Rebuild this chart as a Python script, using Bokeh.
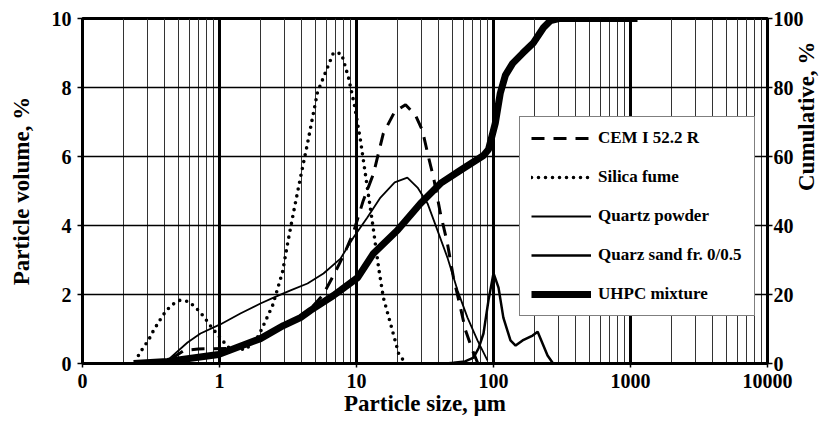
import math
from bokeh.plotting import figure
from bokeh.models import Range1d, LinearAxis, FixedTicker, Legend, LegendItem
from bokeh.embed import file_html
from bokeh.resources import INLINE

# ---- axes / ticks ----
x_ticks = [0.1, 1, 10, 100, 1000, 10000]
x_tick_labels = ["0", "1", "10", "100", "1000", "10000"]
x_minor_ticks = [0.2, 0.3, 0.4, 0.5, 0.6, 0.7, 0.8, 0.9,
                 2, 3, 4, 5, 6, 7, 8, 9,
                 20, 30, 40, 50, 60, 70, 80, 90,
                 200, 300, 400, 500, 600, 700, 800, 900,
                 2000, 3000, 4000, 5000, 6000, 7000, 8000, 9000]
y_ticks = [0, 2, 4, 6, 8, 10]
y2_ticks = [0, 20, 40, 60, 80, 100]

# ---- series ----
cem_x = [0.45, 0.55, 0.7, 0.9, 1.2, 1.6, 2.0, 3.0, 4.0, 4.62, 5.65, 6.79, 8.04, 9.5, 11.2, 13.3,
         15.7, 19.0, 22.8, 27.0, 30.3, 33.6, 36.5, 41.0, 46.1, 51.0, 57.4, 62.5, 70.3, 76.4]
cem_y = [0.15, 0.38, 0.42, 0.43, 0.44, 0.56, 0.75, 1.1, 1.4, 1.59, 1.97, 2.55, 3.13, 3.8, 4.72, 5.5,
         6.67, 7.3, 7.5, 7.19, 6.75, 5.97, 5.39, 4.35, 3.48, 2.49, 1.62, 0.96, 0.38, 0.03]

sf_x = [0.256, 0.279, 0.303, 0.324, 0.347, 0.377, 0.410, 0.454, 0.511, 0.594, 0.668, 0.739, 0.804,
        0.875, 0.967, 1.05, 1.16, 1.55, 1.89, 2.03, 2.44, 2.88, 3.19, 3.47, 3.90, 4.39, 5.19, 6.79,
        7.78, 8.74, 9.67, 10.7, 11.6, 13.1, 14.5, 15.7, 17.7, 20.3, 22.0]
sf_y = [0.23, 0.47, 0.67, 0.90, 1.10, 1.33, 1.54, 1.71, 1.83, 1.80, 1.63, 1.44, 1.25,
        1.05, 0.84, 0.67, 0.47, 0.40, 0.75, 0.99, 1.68, 2.64, 3.62, 4.38, 5.39, 6.38, 7.86, 9.01,
        8.98, 8.29, 7.48, 6.46, 5.50, 4.06, 2.78, 1.91, 1.16, 0.29, 0.09]

qp_x = [0.38, 0.439, 0.584, 0.726, 1.02, 1.42, 1.99, 2.48, 3.30, 4.39, 5.74, 7.64, 9.5, 12.0,
        14.96, 19.0, 23.5, 27.9, 33.0, 39.0, 46.1, 54.6, 64.6, 76.4, 90.3]
qp_y = [0.0, 0.17, 0.61, 0.87, 1.14, 1.45, 1.74, 1.91, 2.12, 2.32, 2.61, 3.04, 3.65, 4.23,
        4.81, 5.25, 5.39, 5.10, 4.64, 3.86, 3.07, 2.12, 1.33, 0.67, 0.09]

qs_x = [45, 51, 62, 71.5, 78, 84.5, 91.9, 100, 108.8, 118, 133, 145, 163, 193, 210, 228, 248, 270]
qs_y = [0.0, 0.02, 0.06, 0.17, 0.45, 0.87, 1.83, 2.62, 2.2, 1.33, 0.67, 0.52, 0.67, 0.81, 0.92, 0.58, 0.23, 0.02]

uh_x = [0.236, 0.417, 0.984, 1.99, 2.93, 3.90, 4.62, 6.79, 7.64, 10.2, 13.3, 19.9, 29.3, 41.0,
        57.4, 84.5, 91.9, 103, 112, 122, 138, 163, 196, 232, 261, 300, 1125]
uh_y = [0, 0.6, 2.6, 7.2, 11.0, 13.3, 15.4, 19.7, 21.2, 24.9, 31.9, 38.6, 46.4, 52.2,
        56.0, 60.3, 62.0, 69.6, 78.3, 83.5, 87.0, 89.9, 93.0, 97.4, 99.4, 100, 100]

legend_labels = ["CEM I 52.2 R", "Silica fume", "Quartz powder", "Quarz sand fr. 0/0.5", "UHPC mixture"]

FONT = "Liberation Serif"

p = figure(width=836, height=424, x_axis_type="log",
           x_range=Range1d(0.1, 10000), y_range=Range1d(0, 10),
           output_backend="svg", toolbar_location=None,
           min_border_left=82, min_border_right=69, min_border_top=18, min_border_bottom=61)
p.extra_y_ranges = {"cum": Range1d(0, 100)}
p.background_fill_color = "white"
p.border_fill_color = "white"
p.outline_line_color = "black"
p.outline_line_width = 3

# x axis
p.xaxis.ticker = FixedTicker(ticks=x_ticks, minor_ticks=x_minor_ticks)
p.xaxis.major_label_overrides = {t: l for t, l in zip(x_ticks, x_tick_labels)}
p.xaxis.axis_label = "Particle size, \u00b5m"
# y axis
p.yaxis.ticker = FixedTicker(ticks=y_ticks)
p.yaxis.axis_label = "Particle volume, %"

ax2 = LinearAxis(y_range_name="cum", ticker=FixedTicker(ticks=y2_ticks), axis_label="Cumulative, %")
if "axis_label_orientation" in ax2.properties():
    ax2.axis_label_orientation = math.pi / 2
p.add_layout(ax2, "right")

for ax in [p.xaxis[0], p.yaxis[0], ax2]:
    ax.axis_line_color = "black"
    ax.axis_line_width = 3
    ax.major_tick_line_color = "black"
    ax.major_tick_line_width = 1.5
    ax.major_tick_in = 0
    ax.major_tick_out = 5
    ax.minor_tick_line_color = None
    ax.major_label_text_font = FONT
    ax.major_label_text_font_style = "bold"
    ax.major_label_text_font_size = "20px"
    ax.major_label_text_color = "black"
    ax.axis_label_text_font = FONT
    ax.axis_label_text_font_style = "bold"
    ax.axis_label_text_font_size = "23px"
    ax.axis_label_text_color = "black"

p.xaxis.major_tick_out = 4
p.xaxis.major_label_standoff = 6
p.xaxis.axis_label_standoff = 0
p.yaxis.major_label_standoff = 6
p.yaxis.axis_label_standoff = 15
ax2.major_tick_out = 5
ax2.major_label_standoff = 1
ax2.axis_label_standoff = 0

# grids
p.xgrid.grid_line_color = "black"
p.xgrid.grid_line_width = 3
p.xgrid.minor_grid_line_color = "#333333"
p.xgrid.minor_grid_line_width = 1
p.ygrid.grid_line_color = "black"
p.ygrid.grid_line_width = 1.5

# series
r_cem = p.line(cem_x, cem_y, line_color="black", line_width=3, line_dash="13 9")
r_sf = p.line(sf_x, sf_y, line_color="black", line_width=3.6, line_dash="0 7", line_cap="round")
r_qp = p.line(qp_x, qp_y, line_color="black", line_width=1.8)
r_qs = p.line(qs_x, qs_y, line_color="black", line_width=2.5)
r_uh = p.line(uh_x, uh_y, y_range_name="cum", line_color="black", line_width=7)

legend = Legend(items=[LegendItem(label=l, renderers=[r]) for l, r in
                       zip(legend_labels, [r_cem, r_sf, r_qp, r_qs, r_uh])],
                location=(437, 47))
legend.label_text_font = FONT
legend.label_text_font_style = "bold"
legend.label_text_font_size = "17px"
legend.label_text_color = "black"
legend.glyph_width = 60
legend.glyph_height = 10
legend.label_height = 10
legend.label_width = 145
legend.label_standoff = 7
legend.spacing = 19
legend.padding = 11
legend.margin = 0
legend.border_line_color = "black"
legend.border_line_width = 1.5
legend.background_fill_color = "white"
legend.background_fill_alpha = 1
p.add_layout(legend)

open("out.html", "w").write(file_html(p, INLINE))
